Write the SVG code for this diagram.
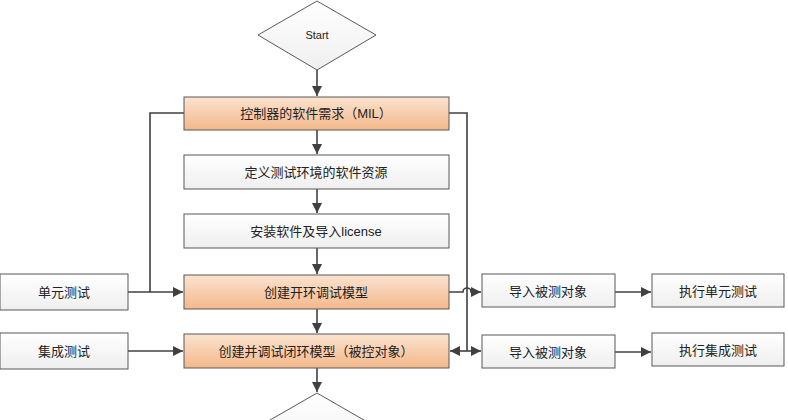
<svg xmlns="http://www.w3.org/2000/svg" width="788" height="420" viewBox="0 0 788 420">
<defs>
<linearGradient id="og" x1="0" y1="0" x2="0" y2="1">
<stop offset="0" stop-color="#fbe3d0"/>
<stop offset="1" stop-color="#f3b88a"/>
</linearGradient>
<linearGradient id="wg" x1="0" y1="0" x2="0" y2="1">
<stop offset="0" stop-color="#ffffff"/>
<stop offset="1" stop-color="#efefef"/>
</linearGradient>
<marker id="ah" viewBox="0 0 10 10" refX="10" refY="5" markerWidth="10" markerHeight="10" markerUnits="userSpaceOnUse" orient="auto">
<path d="M0,0 L10,5 L0,10 Z" fill="#404040"/>
</marker>
<style>
.o{fill:url(#og);stroke:#595959;stroke-width:1}
.w{fill:url(#wg);stroke:#595959;stroke-width:1}
.d{fill:url(#wg);stroke:#595959;stroke-width:1}
.t{font-family:"Liberation Sans","Noto Sans CJK SC",sans-serif;font-size:13px;fill:#222;text-anchor:middle;dominant-baseline:central}
.s{font-size:11px}
.c{fill:none;stroke:#404040;stroke-width:1.6}
</style>
</defs>
<rect width="788" height="420" fill="#ffffff"/>
<g id="connectors">
<path class="c" d="M317,70 V96" marker-end="url(#ah)"/>
<path class="c" d="M317,130 V154" marker-end="url(#ah)"/>
<path class="c" d="M317,189 V213" marker-end="url(#ah)"/>
<path class="c" d="M317,248 V274" marker-end="url(#ah)"/>
<path class="c" d="M317,309 V333" marker-end="url(#ah)"/>
<path class="c" d="M317,368 V392" marker-end="url(#ah)"/>
<path class="c" d="M184,113 H150 V292"/>
<path class="c" d="M128,292 H183" marker-end="url(#ah)"/>
<path class="c" d="M449,113 H467 V351"/>
<path class="c" d="M467,351 H450" marker-end="url(#ah)"/>
<path class="c" d="M467,351 H481" marker-end="url(#ah)"/>
<path class="c" d="M449,292 H463 A4,4 0 0 1 471,292 H481" marker-end="url(#ah)"/>
<path class="c" d="M128,351 H183" marker-end="url(#ah)"/>
<path class="c" d="M615,292 H651" marker-end="url(#ah)"/>
<path class="c" d="M615,352 H651" marker-end="url(#ah)"/>
</g>
<g id="start"><polygon class="d" points="317,1 376,35 317,70 258,35"/><text class="t s" x="317" y="35">Start</text></g>
<g id="n1"><rect class="o" x="184" y="97" width="265" height="33"/><text class="t" x="316" y="113">控制器的软件需求（MIL）</text></g>
<g id="n2"><rect class="w" x="184" y="155" width="265" height="34"/><text class="t" x="316" y="172">定义测试环境的软件资源</text></g>
<g id="n3"><rect class="w" x="184" y="214" width="265" height="34"/><text class="t" x="316" y="231">安装软件及导入license</text></g>
<g id="n4"><rect class="o" x="184" y="275" width="265" height="34"/><text class="t" x="316" y="292">创建开环调试模型</text></g>
<g id="n5"><rect class="o" x="184" y="334" width="265" height="34"/><text class="t" x="316" y="351">创建并调试闭环模型（被控对象）</text></g>
<g id="end"><polygon class="d" points="317,393 376,427 317,461 258,427"/></g>
<g id="unit"><rect class="w" x="0" y="274" width="128" height="36"/><text class="t" x="64" y="292">单元测试</text></g>
<g id="integ"><rect class="w" x="0" y="333" width="128" height="36"/><text class="t" x="64" y="351">集成测试</text></g>
<g id="imp1"><rect class="w" x="482" y="274" width="133" height="33"/><text class="t" x="548" y="291">导入被测对象</text></g>
<g id="exec1"><rect class="w" x="652" y="274" width="132" height="33"/><text class="t" x="718" y="291">执行单元测试</text></g>
<g id="imp2"><rect class="w" x="482" y="335" width="133" height="33"/><text class="t" x="548" y="352">导入被测对象</text></g>
<g id="exec2"><rect class="w" x="652" y="333" width="132" height="33"/><text class="t" x="718" y="350">执行集成测试</text></g>
</svg>
